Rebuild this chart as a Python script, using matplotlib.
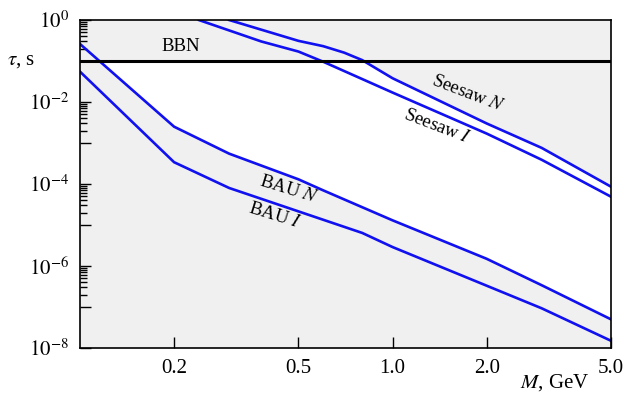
import numpy as np
import matplotlib
matplotlib.use("Agg")
import matplotlib.pyplot as plt
from matplotlib.ticker import FixedLocator, NullFormatter

plt.rcParams['font.family'] = 'serif'
plt.rcParams['font.serif'] = ['Liberation Serif', 'DejaVu Serif']
plt.rcParams['mathtext.fontset'] = 'stix'

#################################################################################
## data

# BAU N (upper baryon asymmetry line)
bau_n_m = [0.1, 0.2, 0.3, 0.5, 0.6, 1.0, 2.0, 3.0, 5.0]
bau_n_tau = [0.26, 2.5e-3, 5.5e-4, 1.3e-4, 7.0e-5, 1.3e-5, 1.5e-6, 3.4e-7, 5.0e-8]

# BAU I (lower baryon asymmetry line)
bau_i_m = [0.1, 0.2, 0.3, 0.8, 1.0, 3.0, 5.0]
bau_i_tau = [0.055, 3.4e-4, 8.0e-5, 6.4e-6, 2.9e-6, 9.3e-8, 1.5e-8]

# Seesaw N
seesaw_n_m = [0.3, 0.5, 0.6, 0.7, 0.8, 1.0, 2.0, 3.0, 5.0]
seesaw_n_tau = [1.0, 0.31, 0.23, 0.16, 0.105, 0.038, 3.0e-3, 7.6e-4, 8.6e-5]

# Seesaw I
seesaw_i_m = [0.24, 0.38, 0.5, 0.6, 1.0, 2.0, 3.0, 5.0]
seesaw_i_tau = [1.0, 0.30, 0.17, 0.096, 0.017, 1.7e-3, 3.9e-4, 4.9e-5]

# BBN bound
bbn_tau = 0.1

x_ticks = [0.2, 0.5, 1.0, 2.0, 5.0]
x_ticklabels = ['0.2', '0.5', '1.0', '2.0', '5.0']
y_major = [10.0**e for e in range(0, -9, -1)]
y_labels = ['$10^{0}$', '', '$10^{-2}$', '', '$10^{-4}$', '', '$10^{-6}$', '', '$10^{-8}$']

#################################################################################
## plot

fig = plt.figure(figsize=(6.26, 3.94), dpi=100)
ax = fig.add_axes([80/626, 46/394, 531/626, 328/394])
ax.set_facecolor('white')
ax.set_xscale('log')
ax.set_yscale('log')
ax.set_xlim(0.1, 5.0)
ax.set_ylim(1e-8, 1.0)

# excluded (gray) regions: below BAU N, above Seesaw N, above BBN
gray = '#f0f0f0'
ax.axhspan(bbn_tau, 1.0, facecolor=gray, edgecolor='none', zorder=1)
ax.fill_between(bau_n_m, 1e-8, bau_n_tau, facecolor=gray, edgecolor='none', zorder=1)
ax.fill_between(seesaw_n_m, seesaw_n_tau, 1.0, facecolor=gray, edgecolor='none', zorder=1)

blue = '#1010f0'
ax.plot(bau_n_m, bau_n_tau, color=blue, lw=1.9, zorder=3)
ax.plot(bau_i_m, bau_i_tau, color=blue, lw=1.9, zorder=3)
ax.plot(seesaw_n_m, seesaw_n_tau, color=blue, lw=1.9, zorder=3)
ax.plot(seesaw_i_m, seesaw_i_tau, color=blue, lw=1.9, zorder=3)
ax.axhline(bbn_tau, color='black', lw=2.2, zorder=4)

fs = 13.5
ax.text(0.21, 0.22, 'BBN', fontsize=fs, ha='center', va='center', zorder=5)
ax.text(1.74, 0.0157, 'Seesaw $N$', fontsize=fs, ha='center', va='center', rotation=-21, zorder=5)
ax.text(1.39, 2.46e-3, 'Seesaw $I$', fontsize=fs, ha='center', va='center', rotation=-21, zorder=5)
ax.text(0.465, 7.3e-5, 'BAU $N$', fontsize=fs, ha='center', va='center', rotation=-17, zorder=5)
ax.text(0.42, 1.7e-5, 'BAU $I$', fontsize=fs, ha='center', va='center', rotation=-17, zorder=5)

# axes labels
fig.text(21/626, 1 - 60/394, r'$\tau$, s', fontsize=15, ha='center', va='center')
fig.text(555/626, 1 - 383/394, '$M$, GeV', fontsize=15, ha='center', va='center')

# ticks
ax.xaxis.set_major_locator(FixedLocator(x_ticks))
ax.set_xticklabels(x_ticklabels, fontsize=15)
ax.xaxis.set_minor_locator(FixedLocator([]))
ax.yaxis.set_major_locator(FixedLocator(y_major))
ax.set_yticklabels(y_labels, fontsize=15)
y_minor = [k * 10.0**e for e in [-1, -3, -5, -7] for k in range(2, 10)]
ax.yaxis.set_minor_locator(FixedLocator(y_minor))
ax.yaxis.set_minor_formatter(NullFormatter())
ax.tick_params(axis='both', which='major', direction='in', length=8, width=1.0,
               top=False, right=False)
ax.tick_params(axis='y', which='minor', direction='in', length=5, width=1.0, right=False)
ax.tick_params(axis='x', which='major', pad=8)
ax.tick_params(axis='y', which='major', pad=8)
for s in ax.spines.values():
    s.set_linewidth(1.2)
    s.set_zorder(6)

fig.savefig('out.png', dpi=100)
